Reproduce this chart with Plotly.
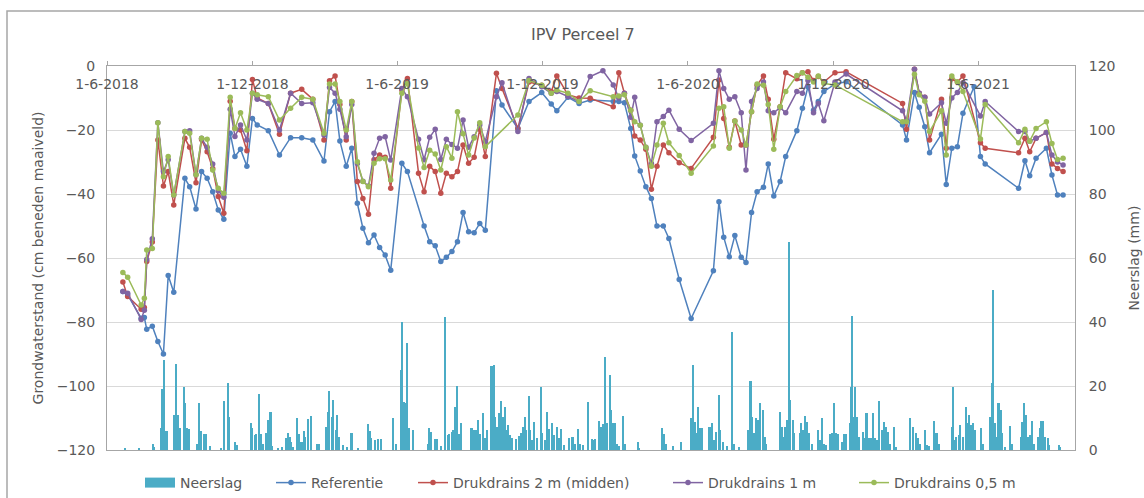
import pandas as pd
import plotly.graph_objects as go

# ---------------- data ----------------
meas_dates = [
    "2018-06-21", "2018-06-27", "2018-07-14", "2018-07-18", "2018-07-21", "2018-07-28",
    "2018-08-04", "2018-08-11", "2018-08-17", "2018-08-24", "2018-09-07", "2018-09-13",
    "2018-09-21", "2018-09-28", "2018-10-05", "2018-10-12", "2018-10-19", "2018-10-26",
    "2018-11-03", "2018-11-09", "2018-11-16", "2018-11-24", "2018-12-01", "2018-12-07",
    "2018-12-21", "2019-01-04", "2019-01-18", "2019-02-01", "2019-02-15", "2019-03-01",
    "2019-03-08", "2019-03-15", "2019-03-21", "2019-03-29", "2019-04-05", "2019-04-12",
    "2019-04-19", "2019-04-26", "2019-05-03", "2019-05-10", "2019-05-17", "2019-05-24",
    "2019-06-07", "2019-06-14", "2019-06-28", "2019-07-05", "2019-07-12", "2019-07-19",
    "2019-07-26", "2019-08-02", "2019-08-09", "2019-08-16", "2019-08-23", "2019-08-30",
    "2019-09-06", "2019-09-13", "2019-09-20", "2019-10-04", "2019-10-11", "2019-10-31",
    "2019-11-14", "2019-11-30", "2019-12-12", "2019-12-19", "2020-01-02", "2020-01-16",
    "2020-01-30", "2020-02-15", "2020-02-28", "2020-03-06", "2020-03-13", "2020-03-21",
    "2020-03-26", "2020-04-02", "2020-04-09", "2020-04-16", "2020-04-23", "2020-05-01",
    "2020-05-08", "2020-05-21", "2020-06-05", "2020-07-03", "2020-07-10", "2020-07-16",
    "2020-07-23", "2020-07-30", "2020-08-07", "2020-08-13", "2020-08-20", "2020-08-27",
    "2020-09-04", "2020-09-10", "2020-09-17", "2020-09-25", "2020-10-02", "2020-10-16",
    "2020-10-23", "2020-10-30", "2020-11-06", "2020-11-12", "2020-11-19", "2020-12-03",
    "2020-12-17", "2021-02-26", "2021-03-03", "2021-03-13", "2021-03-19", "2021-03-26",
    "2021-04-01", "2021-04-16", "2021-04-22", "2021-04-29", "2021-05-06", "2021-05-13",
    "2021-05-27", "2021-06-04", "2021-06-10", "2021-07-22", "2021-07-30", "2021-08-05",
    "2021-08-13", "2021-08-26", "2021-09-02", "2021-09-09", "2021-09-16",
]

referentie = [
    -70.5, -71.5, -78.8, -78.6, -82.3, -81.3, -86.1, -90, -65.5, -70.7, -35.1, -37.7,
    -44.7, -33, -35.1, -39.3, -45, -47.9, -21, -28.3, -26, -31.3, -16.4, -18.4,
    -20.2, -27.8, -22.4, -22.4, -23.1, -29.7, -14.3, -11.1, -23.4, -31.3, -25.7, -42.9,
    -50.7, -55.2, -52.8, -56.7, -59.1, -63.8, -30.4, -33, None, -50, -54.9, -56.2,
    -61.1, -59.8, -58, -54.9, -45.8, -51.8, -52.1, -49.2, -51.3, -7.7, -12.2, -19.5,
    -11.1, -8.3, -11.9, -14, -9.8, -11.7, -10.6, None, -11.1, -11.1, -11.5, -19.5,
    -28.1, -32.8, -37.7, -41.4, -50, -50, -53.9, -66.7, -78.9, -64, -42.4, -53.5,
    -59.6, -53, -59.8, -61.4, -45.8, -39.3, -37.9, -30.6, -40.6, -36.1, -28.3, -20.2,
    -13.2, -6.5, -13.8, -11.1, -8, -5.6, -4.9, -18.4, -23.1, -8.3, -12.9, -19,
    -27.1, -21.3, -37, -25.7, -25.2, -14.8, -6.5, -28.3, -30.6, -38.2, -29.6, -34.3,
    -28.8, -25.7, -34.1, -40.3, -40.3,
]

drukdrains_2m = [
    -67.5, -72, -76, -75.5, -61.1, -55, -23.1, -37.5, -33, -43.4, -22.6, -25.4,
    -36.5, -23, -26.8, -32, -40.8, -46, -11, -19.5, -20, -26.5, -4.2, -10,
    -11.7, -21.3, -8.5, -7.3, -10.4, -23.1, -4.6, -3.1, -12, -23.1, -11.1, -36.1,
    -41.4, -46.3, -29.3, -27.8, -28.5, -38.2, -7.5, -3.9, -33.5, -39.3, -31.3, -33,
    -39.8, -33.5, -34.6, -33, -24.7, -30.4, -28.5, -19.8, -28.3, -2.3, -7, -19.5,
    -5, -6, -8, -3.1, -9, -10, -10.1, None, -12.7, -2.1, -8.5, -13.8,
    -21.9, -23.1, -26, -38.5, -31.3, -24.7, -27.1, -30.2, -32, -22.3, -4.4, -16.4,
    -25.4, -17.2, -24.7, -24.7, -14.3, -6, -3.1, -10.4, -22.9, -12.7, -2.1, -4,
    -2.1, -1.8, -4.5, -3.3, -5, -2.1, -1.8, -11.7, -19.8, -1, -8.5, -9.8,
    -23.1, -10.4, -25.7, -4, -5, -3.1, None, -24, -25.7, -27.1, -22.6, -26.8,
    -22.6, -20.8, -30.6, -32, -33,
]

drukdrains_1m = [
    -70.5, -71, -79.2, -76.3, -60.5, -54, -17.7, -33, -29.3, -40.3, -20.5, -20.2,
    -34, -22.6, -25.4, -30.6, -39, -41, -13.5, -22, -18.4, -23.1, -8.5, -10.4,
    -11.7, -20, -8.5, -11.7, -11.5, -21.6, -6.7, -8.5, -13.5, -22.1, -12, -30.5,
    -36, -37.5, -27.3, -22.6, -22.1, -29.4, -7, -9.6, -22.9, -29.3, -22.3, -19.8,
    -29.2, -22.9, -24.5, -25.7, -16.9, -25.4, -22.1, -18.4, -23.6, -9.6, -5.2, -20.5,
    -3.9, -6.5, -8.5, -8, -9.5, -11.1, -3.3, -1.5, -5.9, -10, -8.5, -16,
    -9.8, -18.5, -25.4, -30.5, -17.4, -15.8, -13.8, -19.8, -23.3, -17.9, -1.5, -7,
    -10.4, -9.6, -14.6, -32.5, -11.1, -7, -5, -14, -14.6, -13, -14.6, -8,
    -8.5, -4.5, -14.6, -11.7, -17.1, -5, -2.5, -14, -17, -1, -8.5, -9.8,
    -15, -11.5, -17.9, -10, -8.3, -5.2, None, -15.6, -11.1, -20.5, -20.5, -23.5,
    -22.6, -20.8, -27.8, -30, -30.9,
]

drukdrains_05m = [
    -64.5, -66, -74.7, -72.6, -57.5, -57, -17.7, -34.6, -28.3, -40.3, -20.5, -21,
    -34, -22.6, -22.9, -32.5, -38.2, -39.8, -9.8, -19.5, -14.6, -20, -8.5, -9,
    -9.6, -16.9, -13.2, -9.8, -10.4, -21, -5.6, -5.6, -11.1, -20, -11.1, -29.9,
    -36.1, -37.7, -30.4, -29, -29, -35.6, -8.5, -5.5, -25.6, -31.7, -26.3, -27.5,
    -32.5, -25.2, -28.8, -14.3, -21.2, -27.8, -22.5, -17.7, -25.2, None, None, -15.3,
    -4.5, -6, -8.5, -7.5, -8.5, -11.1, -7.7, None, -9.6, -9.4, -9, -13.8,
    -17.4, -18.5, -25.4, -31.3, -24.7, -17.9, -24, -28, -33.5, -25, -13.2, -12.7,
    -25.7, -17.2, -20, -24.7, -14.3, -5.6, -6, -12, -26, -12.7, -8, -3,
    -2.1, -3.5, -5, -3.1, -5.5, -5.9, None, -17.4, -17.4, -2.6, -9, -11,
    -20.5, -14, -27.8, -3.1, -5, -8, None, -22.8, -12, -24, -19.8, -23.5,
    -19.5, -17.4, -24.2, -29.2, -28.8,
]

# daily precipitation: day number counted from 1-6-2018, and amount in mm
rain_day = [
    23, 41, 58, 60, 68, 70, 72, 74, 76, 85, 87, 89, 92, 97, 99, 101, 104, 113, 116, 118,
    123, 125, 130, 144, 148, 152, 154, 161, 164, 181, 183, 186, 188, 191, 194, 197, 200,
    203, 206, 208, 216, 220, 226, 228, 230, 232, 234, 239, 242, 245, 248, 250, 253, 257,
    264, 267, 276, 278, 280, 283, 285, 288, 290, 292, 297, 302, 308, 316, 329, 331, 333,
    337, 341, 345, 360, 364, 370, 372, 374, 376, 378, 380, 385, 404, 406, 408, 413, 416,
    421, 426, 429, 431, 434, 436, 438, 441, 443, 446, 459, 461, 464, 467, 469, 473, 476,
    478, 483, 485, 487, 489, 491, 494, 496, 499, 501, 503, 505, 507, 510, 515, 519, 521,
    524, 526, 528, 531, 533, 535, 538, 541, 546, 548, 551, 554, 557, 560, 563, 566, 569,
    572, 575, 582, 586, 589, 593, 596, 599, 606, 610, 612, 614, 619, 622, 624, 627, 630,
    633, 635, 637, 639, 642, 644, 650, 652, 668, 670, 699, 701, 703, 712, 723, 735, 738,
    740, 742, 744, 746, 749, 758, 760, 762, 764, 767, 770, 772, 775, 780, 787, 789, 795,
    807, 810, 812, 814, 817, 819, 822, 826, 828, 830, 847, 849, 851, 854, 856, 858, 860,
    863, 865, 872, 874, 876, 879, 881, 884, 887, 895, 897, 900, 902, 905, 910, 912, 915,
    917, 920, 925, 928, 930, 935, 937, 938, 940, 942, 944, 946, 951, 954, 956, 959, 961,
    964, 967, 969, 972, 975, 978, 980, 983, 986, 991, 993, 1011, 1014, 1018, 1021, 1023,
    1029, 1032, 1035, 1041, 1044, 1047, 1063, 1065, 1067, 1069, 1072, 1074, 1077, 1081,
    1083, 1085, 1087, 1090, 1092, 1100, 1102, 1112, 1114, 1115, 1117, 1119, 1122, 1125,
    1127, 1130, 1137, 1139, 1150, 1152, 1154, 1156, 1159, 1162, 1164, 1167, 1172, 1174,
    1176, 1178, 1180, 1184, 1186, 1198, 1200,
]
rain_mm = [
    0.5, 0.5, 2, 1, 7, 19, 28, 6, 6, 11, 27, 11, 7, 19.6, 14.6, 7, 6.5, 2, 14.6, 6,
    5, 5, 1.2, 0.5, 15.4, 21, 10.4, 2.6, 1.5, 8.3, 6.8, 4.7, 5, 17.5, 5, 2, 5.4,
    9.4, 12, 1.2, 0.5, 1, 3.6, 5.4, 4, 2.6, 1, 9.9, 5, 2.6, 6, 4, 9.6, 10.6,
    2, 2, 7.3, 12, 18.5, 10.4, 15.6, 6.3, 11, 4, 1.5, 1, 5.2, 0.5, 8, 6, 3.6,
    3, 3.3, 3.3, 10, 2, 25, 40, 15, 14.6, 33.5, 6.8, 6.3, 2, 6.8, 5.7, 3.3, 3.3,
    1.2, 41.5, 4.7, 5, 5.7, 6.3, 13.5, 20, 5, 8.3, 6.8, 6.3, 6.3, 9.4, 5, 11.7, 3.6,
    6.3, 26.3, 26.3, 26.6, 10.4, 7.3, 11.7, 15.4, 10.4, 13.5, 6.3, 7.8, 4.7, 3.6, 3.3, 4.4, 5.2,
    7.3, 10.4, 6.3, 16.9, 6.3, 3.1, 8.9, 3.6, 19.8, 5.2, 3, 12, 6.5, 8.3, 4.7, 7.3, 3.6,
    6.5, 1.5, 3.6, 4.2, 2, 6.5, 2, 1.5, 15, 3.3, 3, 3.3, 9.2, 7.3, 8, 29, 8.3,
    23.4, 12.5, 8.3, 8.3, 2, 1.2, 10.6, 2, 2.6, 0.5, 7, 5, 2, 1.2, 2.6, 9.9, 26.6,
    8.9, 5.2, 13.5, 6.8, 7, 7.3, 7.3, 8.3, 3, 5.7, 17.2, 6.3, 2.6, 1.2, 37, 2, 1,
    6.3, 21.7, 10.4, 5.2, 9.9, 9.4, 14.6, 12.5, 4.2, 2, 12, 7.3, 4.2, 7.3, 9.4, 65, 15.6,
    9.4, 5.2, 5.2, 8.3, 6.3, 10.6, 8.9, 5.2, 2, 6.3, 3, 9.9, 2, 1.5, 5, 5.2, 14.8,
    5.2, 5, 2.6, 5, 5, 8.3, 19.8, 42, 10.4, 19.8, 10.4, 4.2, 5.7, 3.6, 11.7, 3.6, 3.6,
    11.5, 3.6, 3, 15.4, 6.3, 8.9, 7.3, 5.7, 2, 7.3, 1, 9.9, 7.3, 5.4, 3.6, 2,
    6.3, 1.5, 1.2, 9.2, 5.2, 2, 7.3, 19.8, 3, 4.2, 4.7, 7.8, 4.2, 13.5,
    8.3, 11, 7.8, 8.3, 6.3, 7, 2, 10.4, 20.8, 50, 8.3, 4.2, 14.6, 12.5,
    5.2, 1, 7.5, 2, 4.2, 8.9, 14.8, 11, 4.2, 4.7, 9.2, 2, 4.2, 7,
    9.2, 9.2, 4.2, 3.6, 1.5, 1.5, 1,
]

tick_dates = ["2018-06-01", "2018-12-01", "2019-06-01", "2019-12-01",
              "2020-06-01", "2020-12-01", "2021-06-01"]
tick_labels = ["1-6-2018", "1-12-2018", "1-6-2019", "1-12-2019",
               "1-6-2020", "1-12-2020", "1-6-2021"]

# ---------------- style ----------------
FONT = "DejaVu Sans"
TXT = "#595959"
AX = "#a6a6a6"
GRID = "#d9d9d9"
C_RAIN = "#4bacc6"
C_REF = "#4f81bd"
C_2M = "#c0504d"
C_1M = "#8064a2"
C_05M = "#9bbb59"

L, R, T, B = 107, 69, 66, 48
W, H = 1144, 498
PW, PH = W - L - R, H - T - B


def px_x(p):
    return (p - L) / PW


def px_y(p):
    return (H - B - p) / PH


rain_dates = pd.Timestamp("2018-06-01") + pd.to_timedelta(rain_day, unit="D")

fig = go.Figure()
fig.add_trace(go.Bar(
    x=rain_dates, y=rain_mm, yaxis="y", xaxis="x", name="Neerslag",
    marker=dict(color=C_RAIN, line=dict(width=0)), width=2 * 86400000,
    showlegend=False,
))
# legend swatch for the precipitation bars
fig.add_trace(go.Scatter(
    x=[None], y=[None], yaxis="y", mode="lines", name="Neerslag",
    line=dict(color=C_RAIN, width=10), legend="legend",
))

series = [
    ("Referentie", referentie, C_REF, "legend2"),
    ("Drukdrains 2 m (midden)", drukdrains_2m, C_2M, "legend3"),
    ("Drukdrains 1 m", drukdrains_1m, C_1M, "legend4"),
    ("Drukdrains 0,5 m", drukdrains_05m, C_05M, "legend5"),
]
for name, vals, col, lg in series:
    fig.add_trace(go.Scatter(
        x=meas_dates, y=vals, yaxis="y2", mode="lines+markers", name=name,
        connectgaps=True, line=dict(color=col, width=1.5),
        marker=dict(size=5.5, color=col), legend=lg,
    ))


def legend_at(xpx):
    return dict(x=px_x(xpx), y=px_y(483), xanchor="left", yanchor="middle",
                orientation="h", bgcolor="rgba(0,0,0,0)",
                font=dict(family=FONT, size=14, color=TXT))


fig.update_layout(
    width=W, height=H,
    margin=dict(l=L, r=R, t=T, b=B, autoexpand=False),
    paper_bgcolor="white", plot_bgcolor="white",
    font=dict(family=FONT, size=14, color=TXT),
    bargap=0,
    xaxis=dict(
        type="date", range=["2018-06-01", "2021-10-01"], side="top", anchor="y",
        tickvals=tick_dates, ticktext=tick_labels,
        ticklabelposition="inside", ticklabeloverflow="allow",
        ticks="outside", ticklen=4, tickcolor=AX, ticklabelstandoff=13,
        showline=True, linecolor=AX, linewidth=1, mirror=True,
        showgrid=False, zeroline=False, automargin=False,
        tickfont=dict(family=FONT, size=14, color=TXT),
    ),
    yaxis=dict(
        range=[0, 120], dtick=20, side="right",
        showgrid=True, gridcolor=GRID, gridwidth=1,
        showline=True, linecolor=AX, zeroline=False, ticks="",
        ticklabelstandoff=10, automargin=False,
        tickfont=dict(family=FONT, size=14, color=TXT),
        title=dict(text="Neerslag (mm)", standoff=14,
                   font=dict(family=FONT, size=14, color=TXT)),
    ),
    yaxis2=dict(
        range=[-120, 0], dtick=20, side="left", overlaying="y", anchor="x",
        showgrid=False, showline=True, linecolor=AX, zeroline=False, ticks="",
        ticklabelstandoff=8, automargin=False,
        tickfont=dict(family=FONT, size=14, color=TXT),
        title=dict(text="Grondwaterstand (cm beneden maaiveld)", standoff=9,
                   font=dict(family=FONT, size=14, color=TXT)),
    ),
    legend=legend_at(140),
    legend2=legend_at(271),
    legend3=legend_at(413),
    legend4=legend_at(668),
    legend5=legend_at(854),
    annotations=[dict(text="IPV Perceel 7", xref="paper", yref="paper",
                      x=px_x(583), y=px_y(35), xanchor="center", yanchor="middle",
                      showarrow=False, font=dict(family=FONT, size=16, color=TXT))],
    shapes=[dict(type="rect", xref="paper", yref="paper",
                 x0=px_x(7), x1=px_x(1160), y0=px_y(510), y1=px_y(11),
                 line=dict(color=AX, width=1.5), fillcolor="rgba(0,0,0,0)",
                 layer="below")],
)

# remove the browser's default page margin so the figure sits at the window's corner
fig.write_html("out.html",
               config={"displayModeBar": False},
               post_script="document.body.style.margin='0px';")
